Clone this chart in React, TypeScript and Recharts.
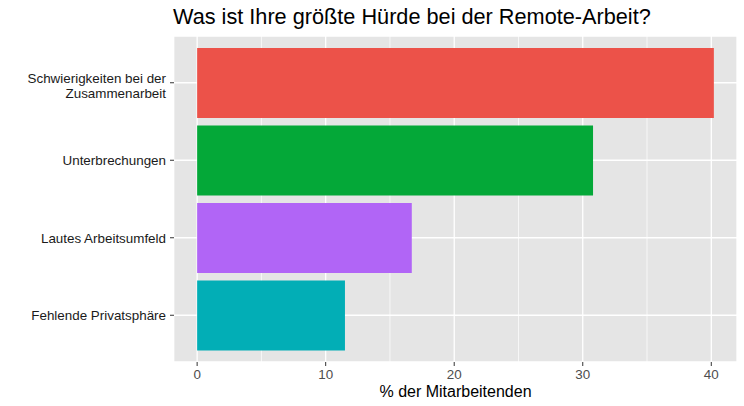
import React from 'react';
import { BarChart, Bar, XAxis, YAxis, CartesianGrid, Cell } from 'recharts';

const categories = [
  'Schwierigkeiten bei der\nZusammenarbeit',
  'Unterbrechungen',
  'Lautes Arbeitsumfeld',
  'Fehlende Privatsphäre',
];
const values = [40.2, 30.8, 16.7, 11.5];
const barColors = ['#EC5249', '#04A838', '#B165F6', '#02AEB6'];
const xTicks = [0, 5, 10, 15, 20, 25, 30, 35, 40];
const xMajorTicks = [0, 10, 20, 30, 40];

const title = 'Was ist Ihre größte Hürde bei der Remote-Arbeit?';
const xLabel = '% der Mitarbeitenden';

const data = categories.map((c, i) => ({ category: c, value: values[i] }));

const FONT = '"Liberation Sans", Arial, Helvetica, sans-serif';
const PANEL_LEFT = 174;
const PANEL_BOTTOM = 362;

const YTick = (props: any) => {
  const { y, payload } = props;
  const lines = String(payload.value).split('\n');
  const fs = 13.4;
  const lh = 14.6;
  const first = lines.length === 1 ? y + 5 : y + 0.5;
  return (
    <g>
      <line x1={PANEL_LEFT - 4} x2={PANEL_LEFT} y1={y} y2={y} stroke="#333" strokeWidth={1} />
      <text x={PANEL_LEFT - 8} y={first} textAnchor="end" fontFamily={FONT} fontSize={fs} fill="#1a1a1a">
        {lines.map((l, i) => (
          <tspan key={i} x={PANEL_LEFT - 8} y={first + i * lh}>
            {l}
          </tspan>
        ))}
      </text>
    </g>
  );
};

const XTick = (props: any) => {
  const { x, payload } = props;
  if (!xMajorTicks.includes(payload.value)) return <g />;
  return (
    <g>
      <line x1={x} x2={x} y1={PANEL_BOTTOM} y2={PANEL_BOTTOM + 4} stroke="#333" strokeWidth={1} />
      <text x={x} y={PANEL_BOTTOM + 16.5} textAnchor="middle" fontFamily={FONT} fontSize={13.4} fill="#4d4d4d">
        {payload.value}
      </text>
    </g>
  );
};

const VLine = (props: any) => {
  const { x1, x2, y1, y2, index } = props;
  const major = index % 2 === 0;
  return <line x1={x1} x2={x2} y1={y1} y2={y2} stroke="#ffffff" strokeWidth={major ? 1.3 : 0.7} />;
};

const HLine = (props: any) => {
  const { x1, x2, y1, y2 } = props;
  return <line x1={x1} x2={x2} y1={y1} y2={y2} stroke="#ffffff" strokeWidth={1.3} />;
};

const XAxisLabel = (props: any) => {
  const vb = props.viewBox || {};
  const cx = (vb.x ?? PANEL_LEFT) + (vb.width ?? 563) / 2;
  return (
    <text x={cx} y={397} textAnchor="middle" fontFamily={FONT} fontSize={16} fill="#000">
      {xLabel}
    </text>
  );
};

export default function App() {
  return (
    <div style={{ position: 'absolute', left: 0, top: 0, width: 744, height: 406, background: '#fff' }}>
      <div
        style={{
          position: 'absolute',
          left: 173,
          top: 6,
          fontFamily: FONT,
          fontSize: 21.7,
          lineHeight: '22px',
          color: '#000',
          whiteSpace: 'nowrap',
          zIndex: 2,
        }}
      >
        {title}
      </div>
      <BarChart
        width={744}
        height={406}
        data={data}
        layout="vertical"
        margin={{ top: 36, right: 7, bottom: 0, left: 0 }}
        barCategoryGap="5%"
      >
        <CartesianGrid
          fill="#E5E5E5"
          fillOpacity={1}
          stroke="#ffffff"
          vertical={VLine as any}
          horizontal={HLine as any}
        />
        <XAxis
          type="number"
          domain={[-1.8, 42]}
          ticks={xTicks}
          allowDataOverflow
          height={44}
          axisLine={false}
          tickLine={false}
          tickSize={0}
          tickMargin={0}
          tick={XTick as any}
          interval={0}
          label={<XAxisLabel />}
        />
        <YAxis
          type="category"
          dataKey="category"
          width={174}
          axisLine={false}
          tickLine={false}
          tickSize={0}
          tickMargin={0}
          tick={YTick as any}
          interval={0}
          padding={{ top: 8, bottom: 8 }}
        />
        <Bar dataKey="value" isAnimationActive={false}>
          {data.map((d, i) => (
            <Cell key={i} fill={barColors[i]} />
          ))}
        </Bar>
      </BarChart>
    </div>
  );
}
